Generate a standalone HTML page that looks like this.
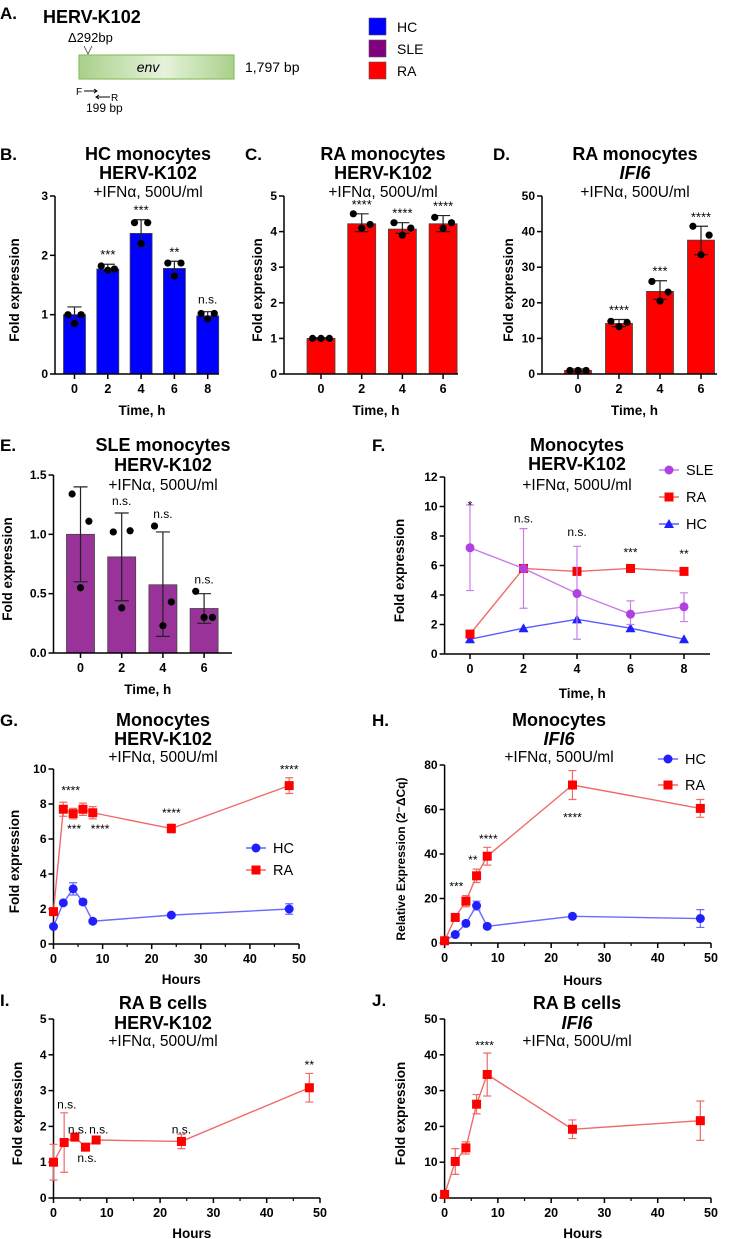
<!DOCTYPE html>
<html><head><meta charset="utf-8">
<style>
html,body{margin:0;padding:0;background:#fff;}
svg{display:block;font-family:"Liberation Sans",Arial,sans-serif;}
</style></head>
<body>
<svg id="fig" width="730" height="1239" viewBox="0 0 730 1239" xmlns="http://www.w3.org/2000/svg">
<defs>
<linearGradient id="envg" x1="0" x2="1" y1="0" y2="0">
<stop offset="0" stop-color="#a9d08a"/><stop offset="0.55" stop-color="#e6f2dc"/><stop offset="1" stop-color="#a9d08a"/>
</linearGradient>
</defs>
<g>
<text x="0" y="19" font-size="17" font-weight="bold">A.</text>
<text x="43" y="23" font-size="18" font-weight="bold">HERV-K102</text>
<text x="68" y="42" font-size="13">Δ292bp</text>
<path d="M84 46 L88 54 L92 46" fill="none" stroke="#333" stroke-width="0.8"/>
<rect x="79" y="55" width="155" height="24" fill="url(#envg)" stroke="#8cc063" stroke-width="1.2"/>
<text x="148" y="72" font-size="14" font-style="italic" text-anchor="middle">env</text>
<text x="245" y="72" font-size="14">1,797 bp</text>
<text x="76" y="95" font-size="10">F</text>
<path d="M84 91 L97 91 M94 89 L97 91 L94 93" stroke="#000" fill="none" stroke-width="1"/>
<path d="M96 97 L110 97 M99 95 L96 97 L99 99" stroke="#000" fill="none" stroke-width="1"/>
<text x="111" y="101" font-size="10">R</text>
<text x="86" y="112" font-size="12">199 bp</text>
<rect x="369" y="18" width="17" height="17" fill="#0000ff" stroke="#555" stroke-width="0.6"/>
<rect x="369" y="40" width="17" height="17" fill="#800080" stroke="#555" stroke-width="0.6"/>
<rect x="369" y="62" width="17" height="17" fill="#ff0000" stroke="#555" stroke-width="0.6"/>
<text x="397" y="32" font-size="14">HC</text>
<text x="397" y="54" font-size="14">SLE</text>
<text x="397" y="76" font-size="14">RA</text>
</g>
</svg>
<script>
const barCatsB = ["0","2","4","6","8"];
const barMeanB = [1.0,1.77,2.37,1.78,0.98];
const barLoB = [0.87,1.72,2.15,1.65,0.93];
const barHiB = [1.13,1.85,2.6,1.9,1.05];
const barPtsB = [[1.0,1.0,0.85],[1.82,1.77,1.75],[2.55,2.55,2.2],[1.87,1.87,1.65],[1.02,1.02,0.93]];
const barSigB = ["","***","***","**","n.s."];
const yTicksB = [0,1,2,3];

const barCatsC = ["0","2","4","6"];
const barMeanC = [1.0,4.22,4.07,4.22];
const barLoC = [0.98,4.0,3.95,4.0];
const barHiC = [1.02,4.5,4.25,4.45];
const barPtsC = [[1.0,1.0,1.0],[4.5,4.2,4.1],[4.25,4.1,3.9],[4.4,4.25,4.1]];
const barSigC = ["","****","****","****"];
const yTicksC = [0,1,2,3,4,5];

const barCatsD = ["0","2","4","6"];
const barMeanD = [1.0,14.2,23.2,37.6];
const barLoD = [0.6,13.3,21.0,33.5];
const barHiD = [1.4,15.3,26.2,41.5];
const barPtsD = [[1,1,1],[14.8,14.5,13.3],[26,23,20.5],[41.5,39,33.5]];
const barSigD = ["","****","***","****"];
const yTicksD = [0,10,20,30,40,50];

const barCatsE = ["0","2","4","6"];
const barMeanE = [1.0,0.81,0.575,0.375];
const barLoE = [0.6,0.44,0.14,0.25];
const barHiE = [1.4,1.18,1.02,0.5];
const barPtsE = [[1.34,1.11,0.55],[1.02,1.03,0.38],[1.07,0.43,0.23],[0.52,0.3,0.3]];
const barSigE = ["","n.s.","n.s.","n.s."];
const yTicksE = [0,0.5,1.0,1.5];

const timeF = [0,2,4,6,8];
const sleF = [7.2,5.8,4.1,2.7,3.2];
const sleLoF = [4.3,3.1,1.0,2.0,2.2];
const sleHiF = [10.1,8.5,7.3,3.6,4.15];
const raF = [1.35,5.8,5.6,5.8,5.6];
const hcF = [1.0,1.75,2.35,1.75,1.0];
const sigF = ["*","n.s.","n.s.","***","**"];
const sigYF = [9.8,8.9,8.0,6.6,6.5];
const yTicksF = [0,2,4,6,8,10,12];

const hoursG = [0,2,4,6,8,24,48];
const raG = [1.85,7.7,7.45,7.7,7.5,6.6,9.05];
const raErrG = [0.1,0.4,0.3,0.35,0.35,0.25,0.45];
const hcG = [1.0,2.35,3.15,2.4,1.3,1.65,2.0];
const hcErrG = [0.05,0.1,0.35,0.15,0.1,0.1,0.3];
const sigTextG = ["****","***","****","****","****"];
const sigXG = [3.5,4.2,9.5,24,48];
const sigYG = [8.55,6.35,6.35,7.25,9.75];
const yTicksG = [0,2,4,6,8,10];

const hoursH = [0,2,4,6,8,24,48];
const raH = [1,11.5,18.8,30.2,39,71,60.5];
const raErrH = [0.5,1.5,2.5,3,4,6.5,4];
const hcH = [1,3.8,8.8,16.8,7.5,12,11];
const hcErrH = [0.5,0.8,1,2,1,1,4];
const sigTextH = ["***","**","****","****"];
const sigXH = [2.2,5.3,8.2,24];
const sigYH = [23.5,35.5,45,54.5];
const yTicksH = [0,20,40,60,80];

const hoursI = [0,2,4,6,8,24,48];
const meanI = [1.0,1.55,1.7,1.42,1.62,1.58,3.08];
const errI = [0.5,0.83,0.07,0.06,0.08,0.2,0.4];
const sigTextI = ["n.s.","n.s.","n.s.","n.s.","n.s.","**"];
const sigXI = [2.5,4.5,8.5,6.3,24,48];
const sigYI = [2.5,1.8,1.8,1.0,1.8,3.6];
const yTicksI = [0,1,2,3,4,5];

const hoursJ = [0,2,4,6,8,24,48];
const meanJ = [1,10.2,14,26.2,34.5,19.2,21.6];
const errJ = [0.8,3.6,1.7,2.7,6,2.6,5.5];
const sigTextJ = ["****"];
const sigXJ = [7.5];
const sigYJ = [41.5];
const yTicksJ = [0,10,20,30,40,50];

const NS = "http://www.w3.org/2000/svg";
const svg = document.getElementById("fig");
function mk(tag, attrs, parent, txt){
  const e = document.createElementNS(NS, tag);
  for (const k in attrs) e.setAttribute(k, attrs[k]);
  if (txt !== undefined) e.textContent = txt;
  (parent || svg).appendChild(e);
  return e;
}
function titleBlock(g, cx, ys, lines, italic2){
  const t1 = mk("text",{x:cx,y:ys[0],"font-size":18,"font-weight":"bold","text-anchor":"middle"},g,lines[0]);
  
  
  const t2 = mk("text",{x:cx,y:ys[1],"font-size":18,"font-weight":"bold","text-anchor":"middle","font-style":italic2?"italic":"normal"},g,lines[1]);
  
  
  const t3 = mk("text",{x:cx,y:ys[2],"font-size":15.5,"text-anchor":"middle"},g,"+IFNα, 500U/ml");
  
  
}
function yAxis(g, x, yOf, ticks, fmt, labelX, labelY, label){
  const yTop = yOf(ticks[ticks.length-1]), yBot = yOf(ticks[0]);
  const ax = mk("line",{x1:x,x2:x,y1:yTop,y2:yBot,stroke:"#000","stroke-width":1.5},g);
  
  
  ticks.forEach(v=>{
    const y = yOf(v);
    const tk = mk("line",{x1:x-5,x2:x,y1:y,y2:y,stroke:"#000","stroke-width":1.5},g);
    
    
    const tl = mk("text",{x:x-7,y:y+4,"font-size":12,"font-weight":"bold","text-anchor":"end"},g,fmt(v));
    
    
  });
  const yl = mk("text",{x:labelX,y:labelY,"font-size":label.length>20?12:13.5,"font-weight":"bold","text-anchor":"middle",transform:`rotate(-90 ${labelX} ${labelY})`},g,label);
  
  
  return yl;
}
function barPanel(o){
  const g = mk("g",{},svg);
  
  
  const lt = mk("text",{x:o.letterX,y:o.letterY,"font-size":17,"font-weight":"bold"},g,o.letter);
  
  
  titleBlock(g,o.titleX,o.titleYs,o.title,o.italic);
  const ymax = o.ticks[o.ticks.length-1];
  const yOf = v => o.y0 - (v/ymax)*(o.y0-o.yTop);
  const xOf = i => o.c0 + i*o.step;
  o.means.forEach((m,i)=>{
    const x = xOf(i);
    const b = mk("rect",{x:x-o.bw/2,y:yOf(m),width:o.bw,height:o.y0-yOf(m),fill:o.color,stroke:"#444","stroke-width":0.8},g);
    
    
    const eb = mk("path",{d:`M${x} ${yOf(o.lo[i])} V${yOf(o.hi[i])} M${x-7} ${yOf(o.hi[i])} H${x+7} M${x-7} ${yOf(o.lo[i])} H${x+7}`,stroke:"#222","stroke-width":1.2,fill:"none"},g);
    
    
    const offs = [-o.bw*0.3, o.bw*0.3, 0];
    o.pts[i].forEach((p,j)=>{
      const c = mk("circle",{cx:x+offs[j],cy:yOf(p),r:3.6,fill:"#000"},g);
      
      
    });
    if (o.sig[i]){
      const top = Math.min(yOf(o.hi[i]), ...o.pts[i].map(yOf));
      const s = mk("text",{x:x,y:top-(o.sig[i]==="n.s."?8:5),"font-size":o.sig[i]==="n.s."?12:13,"text-anchor":"middle"},g,o.sig[i]);
      
      
    }
    const tk = mk("line",{x1:x,x2:x,y1:o.y0,y2:o.y0+5,stroke:"#000","stroke-width":1.5},g);
    
    
    const tl = mk("text",{x:x,y:o.y0+19,"font-size":12.5,"font-weight":"bold","text-anchor":"middle"},g,o.cats[i]);
    
    
  });
  const xa = mk("line",{x1:o.axX,x2:o.axR,y1:o.y0,y2:o.y0,stroke:"#000","stroke-width":1.5},g);
  
  
  yAxis(g,o.axX,yOf,o.ticks,o.fmt||(v=>String(v)),o.labX,(o.y0+o.yTop)/2+5,"Fold expression");
  const xt = mk("text",{x:(o.axX+o.axR)/2+5,y:o.y0+41,"font-size":13.5,"font-weight":"bold","text-anchor":"middle"},g,"Time, h");
  
  
}
barPanel({name:"panel-b-hc-monocytes",letter:"B.",letterX:0,letterY:160,titleX:148,titleYs:[160,179,197],title:["HC monocytes","HERV-K102"],
  cats:barCatsB,means:barMeanB,lo:barLoB,hi:barHiB,pts:barPtsB,sig:barSigB,ticks:yTicksB,color:"#0000ff",
  y0:374,yTop:196,c0:74.5,step:33.3,bw:22,axX:55,axR:219,labX:19});
barPanel({name:"panel-c-ra-monocytes",letter:"C.",letterX:245,letterY:160,titleX:383,titleYs:[160,179,197],title:["RA monocytes","HERV-K102"],
  cats:barCatsC,means:barMeanC,lo:barLoC,hi:barHiC,pts:barPtsC,sig:barSigC,ticks:yTicksC,color:"#ff0000",
  y0:374,yTop:196,c0:321,step:40.7,bw:28,axX:284,axR:458,labX:262});
barPanel({name:"panel-d-ra-ifi6",letter:"D.",letterX:493,letterY:160,titleX:635,titleYs:[160,179,197],title:["RA monocytes","IFI6"],italic:true,
  cats:barCatsD,means:barMeanD,lo:barLoD,hi:barHiD,pts:barPtsD,sig:barSigD,ticks:yTicksD,color:"#ff0000",
  y0:374,yTop:196,c0:578,step:41,bw:27,axX:542,axR:717,labX:513});
barPanel({name:"panel-e-sle-monocytes",letter:"E.",letterX:0,letterY:451,titleX:163,titleYs:[451,471,490],title:["SLE monocytes","HERV-K102"],
  cats:barCatsE,means:barMeanE,lo:barLoE,hi:barHiE,pts:barPtsE,sig:barSigE,ticks:yTicksE,color:"#993399",fmt:v=>v.toFixed(1),
  y0:653,yTop:475,c0:80.5,step:41.2,bw:28,axX:53.5,axR:232,labX:12});

function marker(g, shape, x, y, color, nm){
  let e;
  if (shape==="circle") e = mk("circle",{cx:x,cy:y,r:4.5,fill:color},g);
  else if (shape==="square") e = mk("rect",{x:x-4.5,y:y-4.5,width:9,height:9,fill:color},g);
  else e = mk("path",{d:`M${x} ${y-5} L${x+5} ${y+4} L${x-5} ${y+4} Z`,fill:color},g);
  
  
}
function series(g, xs, ys, lo, hi, xOf, yOf, lineColor, mColor, shape, nm){
  const d = xs.map((t,i)=>(i?"L":"M")+xOf(t)+" "+yOf(ys[i])).join(" ");
  const l = mk("path",{d:d,fill:"none",stroke:lineColor,"stroke-width":1.4},g);
  
  
  xs.forEach((t,i)=>{
    const x = xOf(t);
    if (lo){
      const e = mk("path",{d:`M${x} ${yOf(lo[i])} V${yOf(hi[i])} M${x-4} ${yOf(hi[i])} H${x+4} M${x-4} ${yOf(lo[i])} H${x+4}`,stroke:lineColor,"stroke-width":1.2,fill:"none"},g);
      
      
    }
    marker(g, shape, x, yOf(ys[i]), mColor, nm+'-point');
  });
}
function legendEntry(g,x,y,shape,lc,mc,label){
  const l = mk("line",{x1:x-10,x2:x+10,y1:y,y2:y,stroke:lc,"stroke-width":1.4},g);
  
  
  marker(g,shape,x,y,mc,'legend-marker');
  const t = mk("text",{x:x+17,y:y+5,"font-size":14.5},g,label);
  
  
}
function linePanel(o){
  const g = mk("g",{},svg);
  
  
  const lt = mk("text",{x:o.letterX,y:o.letterY,"font-size":17,"font-weight":"bold"},g,o.letter);
  
  
  titleBlock(g,o.titleX,o.titleYs,o.title,o.italic);
  const ymax = o.ticks[o.ticks.length-1];
  const yOf = v => o.y0 - (v/ymax)*(o.y0-o.yTop);
  const xOf = t => o.x0 + (t-o.xmin)/(o.xmax-o.xmin)*(o.x1-o.x0);
  const xa = mk("line",{x1:o.axX,x2:o.axR,y1:o.y0,y2:o.y0,stroke:"#000","stroke-width":1.5},g);
  
  
  o.xticks.forEach(t=>{
    const x = xOf(t);
    const tk = mk("line",{x1:x,x2:x,y1:o.y0,y2:o.y0+5,stroke:"#000","stroke-width":1.5},g);
    
    
    const tl = mk("text",{x:x,y:o.y0+19,"font-size":12.5,"font-weight":"bold","text-anchor":"middle"},g,String(t));
    
    
  });
  (o.minor||[]).forEach(t=>{
    const x = xOf(t);
    const tk = mk("line",{x1:x,x2:x,y1:o.y0,y2:o.y0+3,stroke:"#000","stroke-width":1.2},g);
    
    
  });
  yAxis(g,o.axX,yOf,o.ticks,v=>String(v),o.labX,(o.y0+o.yTop)/2+5,o.ylabel||"Fold expression");
  const xt = mk("text",{x:(o.axX+o.axR)/2+5,y:o.y0+o.xtOff,"font-size":13.5,"font-weight":"bold","text-anchor":"middle"},g,o.xlabel);
  
  
  o.draw(g,xOf,yOf);
  return g;
}
const minor50 = [5,15,25,35,45];
linePanel({name:"panel-f-monocytes-comparison",letter:"F.",letterX:372,letterY:451,titleX:577,titleYs:[451,470,490],title:["Monocytes","HERV-K102"],
  ticks:yTicksF,y0:654,yTop:477,x0:470,x1:684,xmin:0,xmax:8,xticks:timeF,axX:444.6,axR:710,labX:404,xlabel:"Time, h",xtOff:44,
  draw:(g,xOf,yOf)=>{
    series(g,timeF,hcF,null,null,xOf,yOf,"#5a5aff","#2020ff","triangle","hc-series");
    series(g,timeF,raF,null,null,xOf,yOf,"#f06a6a","#ff0000","square","ra-series");
    series(g,timeF,sleF,sleLoF,sleHiF,xOf,yOf,"#c77ee8","#b040e0","circle","sle-series");
    timeF.forEach((t,i)=>{
      const s = mk("text",{x:xOf(t),y:yOf(sigYF[i]),"font-size":12,"text-anchor":"middle"},g,sigF[i]);
      
      
    });
    legendEntry(g,669,470,"circle","#c77ee8","#b040e0","SLE");
    legendEntry(g,669,497,"square","#f06a6a","#ff0000","RA");
    legendEntry(g,669,524,"triangle","#5a5aff","#2020ff","HC");
  }});
linePanel({name:"panel-g-monocytes-timecourse",letter:"G.",letterX:0,letterY:726,titleX:163,titleYs:[726,745,762],title:["Monocytes","HERV-K102"],
  ticks:yTicksG,y0:944,yTop:769,x0:53.5,x1:299,xmin:0,xmax:50,xticks:[0,10,20,30,40,50],minor:minor50,axX:53.5,axR:299,labX:19,xlabel:"Hours",xtOff:40,
  draw:(g,xOf,yOf)=>{
    series(g,hoursG,hcG,hcG.map((v,i)=>v-hcErrG[i]),hcG.map((v,i)=>v+hcErrG[i]),xOf,yOf,"#6a6aff","#2020ff","circle","hc-series");
    series(g,hoursG,raG,raG.map((v,i)=>v-raErrG[i]),raG.map((v,i)=>v+raErrG[i]),xOf,yOf,"#f06a6a","#ff0000","square","ra-series");
    sigTextG.forEach((s,i)=>{
      const t = mk("text",{x:xOf(sigXG[i]),y:yOf(sigYG[i]),"font-size":12,"text-anchor":"middle"},g,s);
      
      
    });
    legendEntry(g,256,848,"circle","#6a6aff","#2020ff","HC");
    legendEntry(g,256,870,"square","#f06a6a","#ff0000","RA");
  }});
linePanel({name:"panel-h-monocytes-ifi6",letter:"H.",letterX:372,letterY:726,titleX:559,titleYs:[726,745,762],title:["Monocytes","IFI6"],italic:true,
  ticks:yTicksH,y0:943,yTop:765,x0:444.6,x1:711,xmin:0,xmax:50,xticks:[0,10,20,30,40,50],minor:minor50,axX:444.6,axR:711,labX:405,xlabel:"Hours",xtOff:42,
  ylabel:"Relative Expression (2⁻ΔCq)",
  draw:(g,xOf,yOf)=>{
    series(g,hoursH,hcH,hcH.map((v,i)=>v-hcErrH[i]),hcH.map((v,i)=>v+hcErrH[i]),xOf,yOf,"#6a6aff","#2020ff","circle","hc-series");
    series(g,hoursH,raH,raH.map((v,i)=>v-raErrH[i]),raH.map((v,i)=>v+raErrH[i]),xOf,yOf,"#f06a6a","#ff0000","square","ra-series");
    sigTextH.forEach((s,i)=>{
      const t = mk("text",{x:xOf(sigXH[i]),y:yOf(sigYH[i]),"font-size":12,"text-anchor":"middle"},g,s);
      
      
    });
    legendEntry(g,668,759,"circle","#6a6aff","#2020ff","HC");
    legendEntry(g,668,785,"square","#f06a6a","#ff0000","RA");
  }});
linePanel({name:"panel-i-ra-bcells-hervk",letter:"I.",letterX:0,letterY:1006,titleX:163,titleYs:[1009,1029,1046],title:["RA B cells","HERV-K102"],
  ticks:yTicksI,y0:1198,yTop:1019,x0:53.5,x1:320,xmin:0,xmax:50,xticks:[0,10,20,30,40,50],minor:minor50,axX:53.5,axR:320,labX:22,xlabel:"Hours",xtOff:40,
  draw:(g,xOf,yOf)=>{
    series(g,hoursI,meanI,meanI.map((v,i)=>v-errI[i]),meanI.map((v,i)=>v+errI[i]),xOf,yOf,"#f06a6a","#ff0000","square","ra-series");
    sigTextI.forEach((s,i)=>{
      const t = mk("text",{x:xOf(sigXI[i]),y:yOf(sigYI[i]),"font-size":12,"text-anchor":"middle"},g,s);
      
      
    });
  }});
linePanel({name:"panel-j-ra-bcells-ifi6",letter:"J.",letterX:372,letterY:1006,titleX:577,titleYs:[1009,1029,1046],title:["RA B cells","IFI6"],italic:true,
  ticks:yTicksJ,y0:1198,yTop:1019,x0:444.6,x1:711,xmin:0,xmax:50,xticks:[0,10,20,30,40,50],minor:minor50,axX:444.6,axR:711,labX:405,xlabel:"Hours",xtOff:40,
  draw:(g,xOf,yOf)=>{
    series(g,hoursJ,meanJ,meanJ.map((v,i)=>v-errJ[i]),meanJ.map((v,i)=>v+errJ[i]),xOf,yOf,"#f06a6a","#ff0000","square","ra-series");
    sigTextJ.forEach((s,i)=>{
      const t = mk("text",{x:xOf(sigXJ[i]),y:yOf(sigYJ[i]),"font-size":12,"text-anchor":"middle"},g,s);
      
      
    });
  }});
</script>
</body></html>
